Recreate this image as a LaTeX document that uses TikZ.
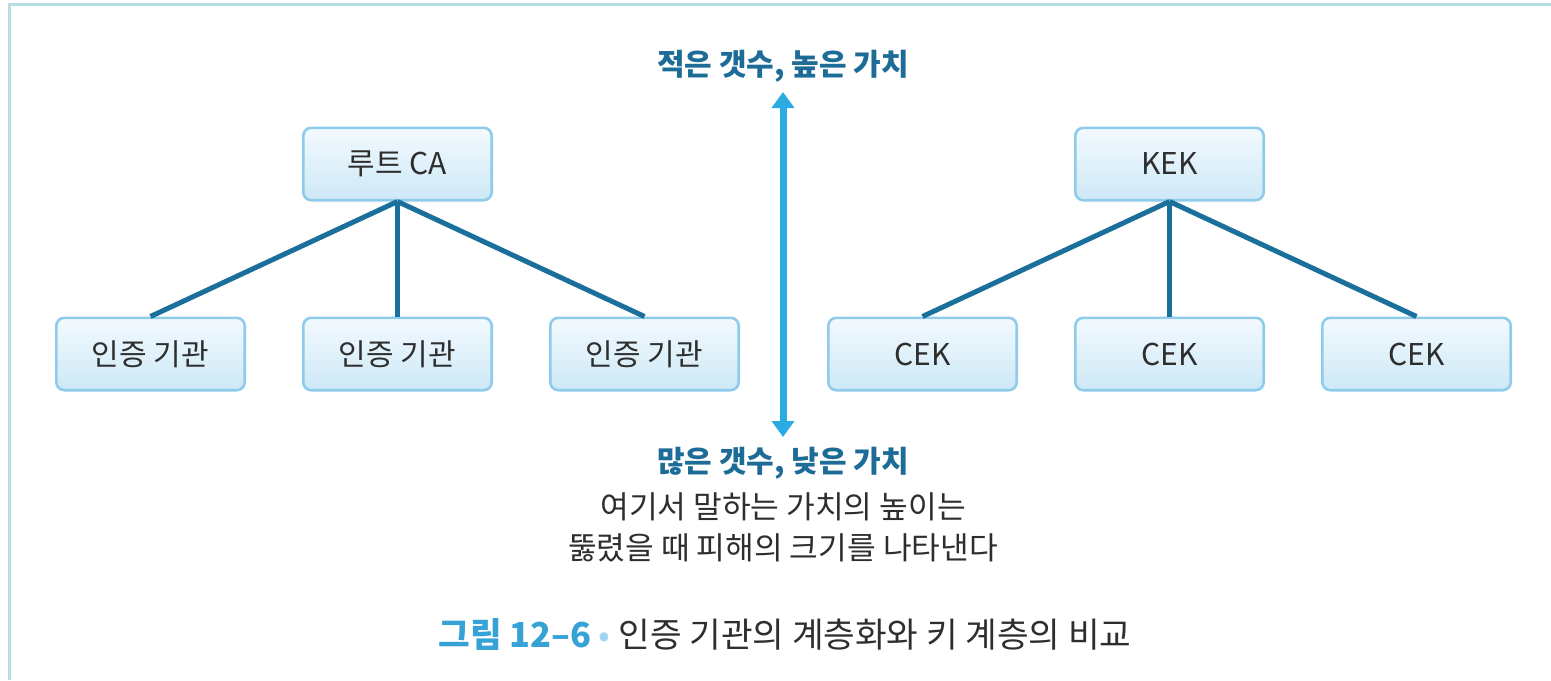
\documentclass[tikz,border=0pt]{standalone}
\usepackage{fontspec}
\setmainfont{Noto Sans CJK KR}
\usetikzlibrary{positioning,arrows.meta}

\definecolor{boxline}{HTML}{8FCBEA}
\definecolor{boxtop}{HTML}{F3FAFE}
\definecolor{boxbot}{HTML}{CDE8F6}
\definecolor{boxtext}{HTML}{2E2E2E}
\definecolor{linkblue}{HTML}{1B6F9B}
\definecolor{gaugeblue}{HTML}{2AACE2}
\definecolor{tagblue}{HTML}{1D6C97}
\definecolor{capblue}{HTML}{37A2D6}
\definecolor{dotblue}{HTML}{A3D5EF}
\definecolor{framecol}{HTML}{B8DEE3}

\begin{document}
\begin{tikzpicture}[x=0.5pt, y=-0.5pt,
		box/.style={draw=boxline, line width=1.3pt, rounded corners=4pt,
			top color=boxtop, bottom color=boxbot, text=boxtext,
			minimum width=94.2pt, minimum height=36.2pt,
			font=\fontsize{15}{18}\selectfont},
		link/.style={draw=linkblue, line width=2.5pt},
		gauge/.style={draw=gaugeblue, line width=3.5pt,
			{Triangle[width=11pt,length=8pt]}-{Triangle[width=11pt,length=8pt]}},
		tag/.style={text=tagblue, font=\fontsize{15}{18}\selectfont\bfseries},
		note/.style={text=boxtext, align=center, font=\fontsize{15.6}{20.5}\selectfont}]
	
	\useasboundingbox (0,0) rectangle (1551,680);
	
	% frame
	\draw[framecol, line width=1.5pt] (9,680) -- (9,4) -- (1551,4);
	
	% certificate authorities
	\node[box] (ca1) at (150.5,354) {인증 기관};
	\node[box, right=28pt of ca1] (ca2) {인증 기관};
	\node[box, right=28pt of ca2] (ca3) {인증 기관};
	\node[box, above=57.5pt of ca2] (root) {루트 CA};
	
	% keys
	\node[box] (cek1) at (922.5,354) {CEK};
	\node[box, right=28pt of cek1] (cek2) {CEK};
	\node[box, right=28pt of cek2] (cek3) {CEK};
	\node[box, above=57.5pt of cek2] (kek) {KEK};
	
	\foreach \c in {ca1,ca2,ca3}
		\draw[link] (root.south) -- (\c.north);
	\foreach \c in {cek1,cek2,cek3}
		\draw[link] (kek.south) -- (\c.north);
	
	% value scale
	\node[tag] (few) at (783,66) {적은 갯수, 높은 가치};
	\node[tag] (many) at (783,463) {많은 갯수, 낮은 가치};
	\coordinate (hi) at (783,92);
	\coordinate (lo) at (783,437);
	\draw[gauge] (hi) -- (lo);
	
	\node[note] (remark) at (783,527.5) {여기서 말하는 가치의 높이는\\뚫렸을 때 피해의 크기를 나타낸다};
	
	% caption
	\node[text=boxtext, font=\fontsize{17.2}{20}\selectfont] (caption) at (785,634)
	{\textcolor{capblue}{\bfseries 그림 12–6} \textcolor{dotblue}{•} 인증 기관의 계층화와 키 계층의 비교};
	
\end{tikzpicture}
\end{document}
